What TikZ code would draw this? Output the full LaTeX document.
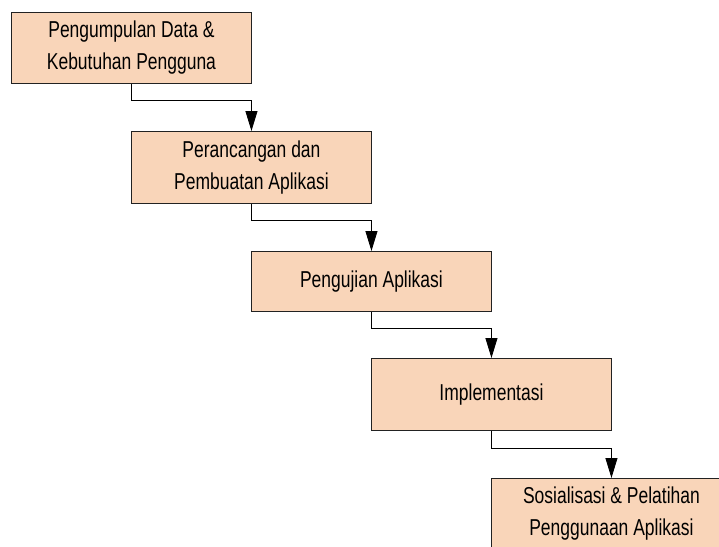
\documentclass[tikz,border=0pt]{standalone}
\usepackage{fontspec}
\setmainfont[FakeStretch=0.76]{Liberation Sans}
\usetikzlibrary{arrows.meta}
\definecolor{peach}{HTML}{F9D5B9}
\definecolor{edge}{HTML}{222222}
\tikzset{
  stepbox/.style={draw=edge, line width=0.9pt, fill=peach, minimum width=240pt,
    align=center, anchor=north west, inner sep=0pt,
    font=\fontsize{23}{32}\selectfont},
  conn/.style={draw=black, line width=0.9pt, -{Triangle[length=20pt,width=12pt]}}
}
\begin{document}
\begin{tikzpicture}[x=1pt,y=-1pt]
\useasboundingbox (0,0) rectangle (719,546);
\fill[white] (0,0) rectangle (719,546);
\clip (0,0) rectangle (719,546);
\node[stepbox, minimum height=71pt] (b1) at (11,12) {Pengumpulan Data \&\\Kebutuhan Pengguna};
\node[stepbox, minimum height=72pt] (b2) at (131,131) {Perancangan dan\\Pembuatan Aplikasi};
\node[stepbox, minimum height=60pt] (b3) at (251,251) {Pengujian Aplikasi};
\node[stepbox, minimum height=72pt] (b4) at (371,358) {Implementasi};
\node[stepbox, minimum height=70pt] (b5) at (491,478) {Sosialisasi \& Pelatihan\\Penggunaan Aplikasi};
\draw[conn] (b1.south) -- ++(0,17) -| (b2.north);
\draw[conn] (b2.south) -- ++(0,17) -| (b3.north);
\draw[conn] (b3.south) -- ++(0,17) -| (b4.north);
\draw[conn] (b4.south) -- ++(0,18) -| (b5.north);
\end{tikzpicture}
\end{document}
